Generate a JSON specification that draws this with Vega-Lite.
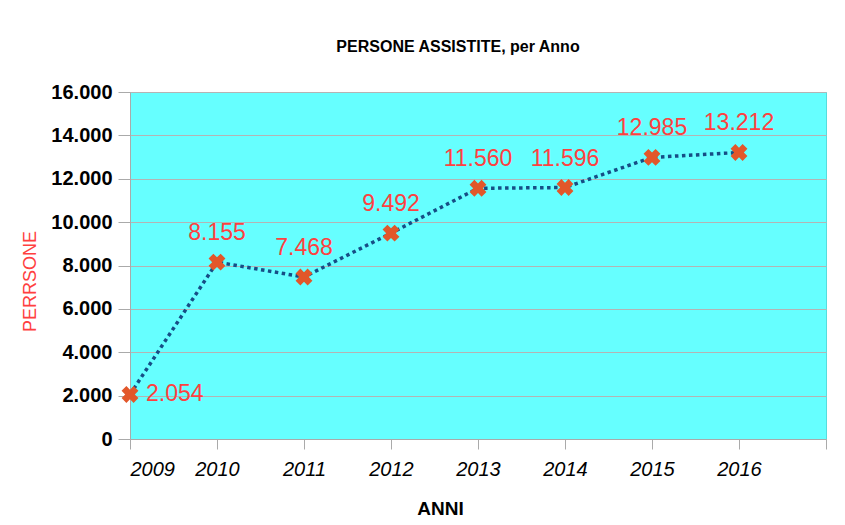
{
  "$schema": "https://vega.github.io/schema/vega-lite/v6.json",
  "autosize": "none",
  "width": 696,
  "height": 347,
  "padding": {"left": 130, "top": 92, "right": 19, "bottom": 86},
  "background": "white",
  "config": {
    "locale": {"number": {"decimal": ",", "thousands": ".", "grouping": [3], "currency": ["€", ""]}},
    "view": {"fill": "#66FFFF", "stroke": "#55DDDD", "strokeWidth": 1},
    "font": "Liberation Sans"
  },
  "title": {
    "text": "PERSONE ASSISTITE, per Anno",
    "fontSize": 16,
    "fontWeight": "bold",
    "font": "Liberation Sans",
    "color": "black",
    "anchor": "middle",
    "dx": -20,
    "offset": 27
  },
  "data": {
    "values": [
      {"anno": 2009, "persone": 2054},
      {"anno": 2010, "persone": 8155},
      {"anno": 2011, "persone": 7468},
      {"anno": 2012, "persone": 9492},
      {"anno": 2013, "persone": 11560},
      {"anno": 2014, "persone": 11596},
      {"anno": 2015, "persone": 12985},
      {"anno": 2016, "persone": 13212}
    ]
  },
  "encoding": {
    "x": {
      "field": "anno",
      "type": "quantitative",
      "scale": {"domain": [2009, 2017], "nice": false, "zero": false},
      "axis": {
        "title": "ANNI",
        "values": [2009, 2010, 2011, 2012, 2013, 2014, 2015, 2016, 2017],
        "labelExpr": "datum.value == 2017 ? '' : '' + datum.value",
        "grid": false,
        "domainColor": "#AAAAAA",
        "tickColor": "#AAAAAA",
        "tickSize": 10,
        "labelFont": "Liberation Sans",
        "labelFontStyle": "italic",
        "labelFontSize": 20,
        "labelColor": "black",
        "labelPadding": 10,
        "titleFont": "Liberation Sans",
        "titleFontSize": 19,
        "titleFontWeight": "bold",
        "titleColor": "black",
        "titlePadding": 20,
        "titleX": 310
      }
    },
    "y": {
      "field": "persone",
      "type": "quantitative",
      "scale": {"domain": [0, 16000], "nice": false},
      "axis": {
        "title": "PERRSONE",
        "values": [0, 2000, 4000, 6000, 8000, 10000, 12000, 14000, 16000],
        "labelExpr": "format(datum.value, ',d')",
        "grid": true,
        "gridColor": "#B4B4B4",
        "gridWidth": 1,
        "domainColor": "#AAAAAA",
        "tickColor": "#AAAAAA",
        "tickSize": 12,
        "labelPadding": 6,
        "labelFont": "Liberation Sans",
        "labelFontWeight": "bold",
        "labelFontSize": 20,
        "labelColor": "black",
        "titleFont": "Liberation Sans",
        "titleFontSize": 18,
        "titleFontWeight": "normal",
        "titleColor": "#FF4040",
        "titleX": -100,
        "titleY": 189,
        "titleAngle": -90,
        "titleBaseline": "middle",
        "titleAlign": "center"
      }
    }
  },
  "layer": [
    {
      "mark": {"type": "line", "color": "#164E86", "strokeWidth": 3.5, "strokeDash": [3.5, 3.5], "strokeCap": "butt"}
    },
    {
      "mark": {"type": "point", "shape": "cross", "angle": 45, "filled": true, "size": 290, "color": "#E2572A", "opacity": 1}
    },
    {
      "transform": [{"filter": "datum.anno != 2009"}],
      "mark": {"type": "text", "color": "#FF4040", "fontSize": 23, "baseline": "alphabetic", "dy": -22, "font": "Liberation Sans"},
      "encoding": {"text": {"field": "persone", "type": "quantitative", "format": ","}}
    },
    {
      "transform": [{"filter": "datum.anno == 2009"}],
      "mark": {"type": "text", "color": "#FF4040", "fontSize": 23, "baseline": "middle", "align": "left", "dx": 16, "font": "Liberation Sans"},
      "encoding": {"text": {"field": "persone", "type": "quantitative", "format": ","}}
    }
  ]
}
